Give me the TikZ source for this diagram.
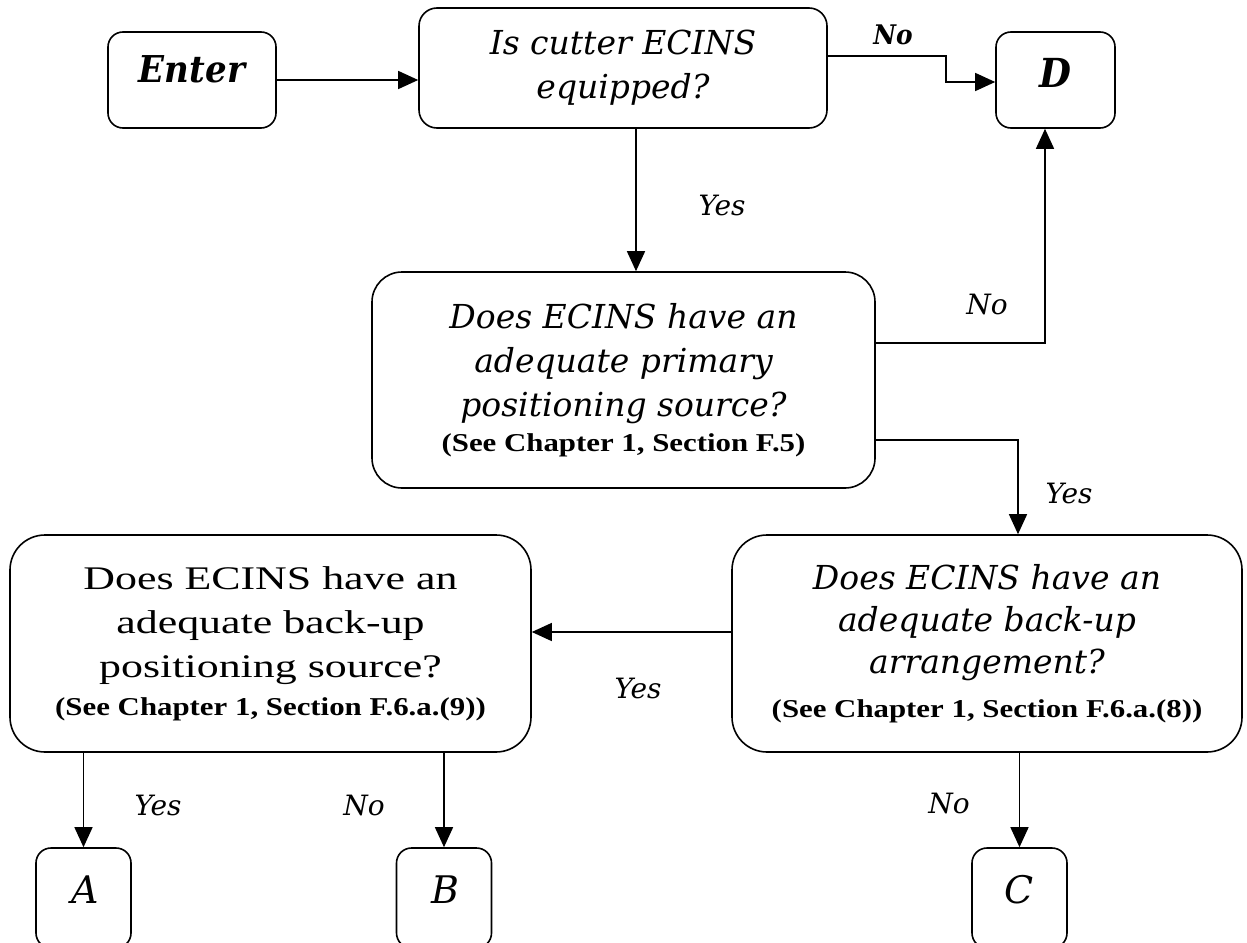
\documentclass[tikz,border=0pt]{standalone}
\usepackage{fontspec}
\usetikzlibrary{arrows.meta}
\newfontfamily\bkfont{DejaVu Serif}
\newfontfamily\bkcond[FakeStretch=0.92]{DejaVu Serif}
\newfontfamily\tnrwide[FakeStretch=1.33]{Liberation Serif}
\newfontfamily\tnrref[FakeStretch=1.2]{Liberation Serif}
\newcommand{\itf}{\bkfont\itshape\fontsize{33}{44}\selectfont}
\newcommand{\reff}{\tnrref\bfseries\upshape\fontsize{25.7}{44}\selectfont}
\tikzset{
  rbox/.style={draw, line width=1.6pt, rounded corners=#1, inner sep=0pt, align=center},
  rbox/.default=15pt,
  conn/.style={line width=1.4pt, -{Triangle[length=20pt,width=18pt]}},
  lab/.style={font=\bkfont\itshape\fontsize{28}{30}\selectfont, anchor=base, inner sep=0pt},
  blab/.style={font=\bkcond\bfseries\itshape\fontsize{27}{30}\selectfont, anchor=base, inner sep=0pt},
  letter/.style={rbox=15pt, minimum width=95pt, minimum height=100pt, text height=28pt, text depth=18pt,
    font=\bkfont\itshape\fontsize{38}{40}\selectfont}
}
\begin{document}
\begin{tikzpicture}[x=1pt,y=-1pt]
\useasboundingbox (0,0) rectangle (1247,942);
\fill[white] (0,0) rectangle (1247,942);
\clip (0,0) rectangle (1247,942);
% boxes
\node[rbox=15pt, minimum width=168pt, minimum height=96pt, text height=27pt, text depth=23pt,
  font=\bkcond\bfseries\itshape\fontsize{37}{40}\selectfont] (enter) at (192,80) {Enter};
\node[rbox=18pt, minimum width=408pt, minimum height=120pt, font=\itf] (iscut) at (623,68)
  {Is cutter ECINS\\equipped?};
\node[rbox=15pt, minimum width=119pt, minimum height=96pt, text height=29pt, text depth=15pt,
  font=\bkcond\bfseries\itshape\fontsize{40}{40}\selectfont] (D) at (1055.5,80) {D};
\node[rbox=30pt, minimum width=503pt, minimum height=216pt, font=\itf] (prim) at (623.5,380)
  {Does ECINS have an\\adequate primary\\positioning source?\\[-9pt]\reff (See Chapter 1, Section F.5)};
\node[rbox=35pt, minimum width=521pt, minimum height=217pt, font=\tnrwide\fontsize{33}{44}\selectfont] (left) at (270.5,643.5)
  {Does ECINS have an\\adequate back-up\\positioning source?\\[-6pt]\reff (See Chapter 1, Section F.6.a.(9))};
\node[rbox=35pt, minimum width=510pt, minimum height=217pt, font=\bkfont\itshape\fontsize{33}{42}\selectfont] (arr) at (987,643.5)
  {Does ECINS have an\\adequate back-up\\arrangement?\\[2pt]\reff (See Chapter 1, Section F.6.a.(8))};
\node[letter] (A) at (83.5,898) {\hspace*{4pt}A};
\node[letter] (B) at (444,898) {\hspace*{3pt}B};
\node[letter] (C) at (1019.5,898) {C};
% connectors
\draw[conn] (enter.east) -- (enter.east -| iscut.west);
\draw[conn] ([yshift=12pt]iscut.east) -- ++(118,0) |- ([yshift=-2pt]D.west);
\draw[conn] ([xshift=13pt]iscut.south) -- ([xshift=13pt]iscut.south |- prim.north);
\draw[conn] ([yshift=37pt]prim.east) -| ([xshift=-10.5pt]D.south);
\draw[conn] ([yshift=-60pt]prim.east) -| ([xshift=31pt]arr.north);
\draw[conn] ([yshift=11.5pt]arr.west) -- ([yshift=11.5pt]arr.west -| left.east);
\draw[conn] (left.south -| A.north) -- (A.north);
\draw[conn] (left.south -| B.north) -- (B.north);
\draw[conn] (arr.south -| C.north) -- (C.north);
% labels
\node[blab] (l1) at (893,45) {No};
\node[lab] (l2) at (722,215) {Yes};
\node[lab] (l3) at (987,314) {No};
\node[lab] (l4) at (1069,503) {Yes};
\node[lab] (l5) at (638,698) {Yes};
\node[lab] (l6) at (158,815) {Yes};
\node[lab] (l7) at (364,815) {No};
\node[lab] (l8) at (949,813) {No};
\end{tikzpicture}
\end{document}
